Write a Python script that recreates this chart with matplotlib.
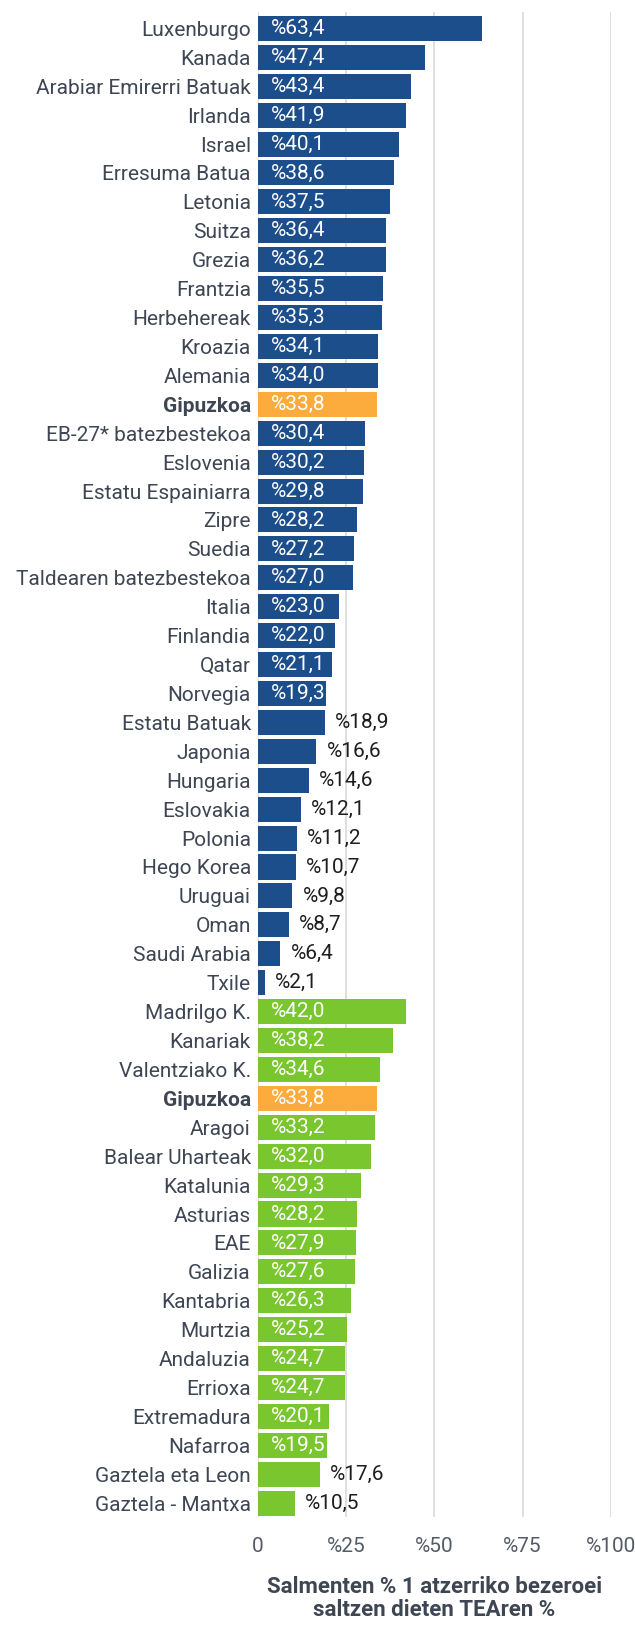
import matplotlib
matplotlib.use("Agg")
import matplotlib.pyplot as plt

# herrialdeak (urdinez) eta autonomia erkidegoak (berdez)
countries = ["Luxenburgo", "Kanada", "Arabiar Emirerri Batuak", "Irlanda", "Israel",
             "Erresuma Batua", "Letonia", "Suitza", "Grezia", "Frantzia", "Herbehereak",
             "Kroazia", "Alemania", "Gipuzkoa", "EB-27* batezbestekoa", "Eslovenia",
             "Estatu Espainiarra", "Zipre", "Suedia", "Taldearen batezbestekoa", "Italia",
             "Finlandia", "Qatar", "Norvegia", "Estatu Batuak", "Japonia", "Hungaria",
             "Eslovakia", "Polonia", "Hego Korea", "Uruguai", "Oman", "Saudi Arabia", "Txile"]
country_values = [63.4, 47.4, 43.4, 41.9, 40.1, 38.6, 37.5, 36.4, 36.2, 35.5, 35.3,
                  34.1, 34.0, 33.8, 30.4, 30.2, 29.8, 28.2, 27.2, 27.0, 23.0,
                  22.0, 21.1, 19.3, 18.9, 16.6, 14.6, 12.1, 11.2, 10.7, 9.8, 8.7, 6.4, 2.1]

regions = ["Madrilgo K.", "Kanariak", "Valentziako K.", "Gipuzkoa", "Aragoi",
           "Balear Uharteak", "Katalunia", "Asturias", "EAE", "Galizia", "Kantabria",
           "Murtzia", "Andaluzia", "Errioxa", "Extremadura", "Nafarroa",
           "Gaztela eta Leon", "Gaztela - Mantxa"]
region_values = [42.0, 38.2, 34.6, 33.8, 33.2, 32.0, 29.3, 28.2, 27.9, 27.6, 26.3,
                 25.2, 24.7, 24.7, 20.1, 19.5, 17.6, 10.5]

x_ticks = [0, 25, 50, 75, 100]
x_ticklabels = ["0", "%25", "%50", "%75", "%100"]
title = "Salmenten % 1 atzerriko bezeroei\nsaltzen dieten TEAren %"

BLUE = "#1c4e8c"
GREEN = "#79c62f"
ORANGE = "#fcab3d"
TEXT = "#3e4654"

plt.rcParams['font.family'] = ['Roboto', 'DejaVu Sans']

labels = countries + regions
values = country_values + region_values
colors = [BLUE] * len(countries) + [GREEN] * len(regions)
colors = [ORANGE if l == "Gipuzkoa" else c for l, c in zip(labels, colors)]
pos = list(range(len(labels)))

fig = plt.figure(figsize=(6.35, 16.26), dpi=100)
ax = fig.add_axes([0.406, 0.067, 0.556, 0.9255])

ax.barh(pos, values, height=0.865, color=colors, zorder=2)

for p, v in zip(pos, values):
    txt = "%" + f"{v:.1f}".replace(".", ",")
    if v > 19:
        ax.annotate(txt, (0, p), xytext=(13, 0), textcoords="offset pixels",
                    va="center", ha="left", color="white", fontsize=15, zorder=3)
    else:
        ax.annotate(txt, (v, p), xytext=(10, 0), textcoords="offset pixels",
                    va="center", ha="left", color="#1e1e1e", fontsize=15, zorder=3)

ax.set_ylim(len(labels) - 0.52, -0.56)
ax.set_xlim(0, 100)
ax.set_yticks(pos)
ax.set_yticklabels(labels)
for t in ax.get_yticklabels():
    if t.get_text() == "Gipuzkoa":
        t.set_fontweight("bold")
ax.tick_params(axis="y", length=0, pad=5, labelsize=15, labelcolor=TEXT)
ax.set_xticks(x_ticks)
ax.set_xticklabels(x_ticklabels)
ax.tick_params(axis="x", length=0, pad=14, labelsize=15, labelcolor="#555b66")
ax.grid(axis="x", color="#d9d9d9", linewidth=1.2, zorder=0)
for s in ax.spines.values():
    s.set_visible(False)

ax.set_xlabel(title, fontsize=16, fontweight="bold", color=TEXT, labelpad=15,
              linespacing=1.05)

fig.savefig("out.png", dpi=100)
